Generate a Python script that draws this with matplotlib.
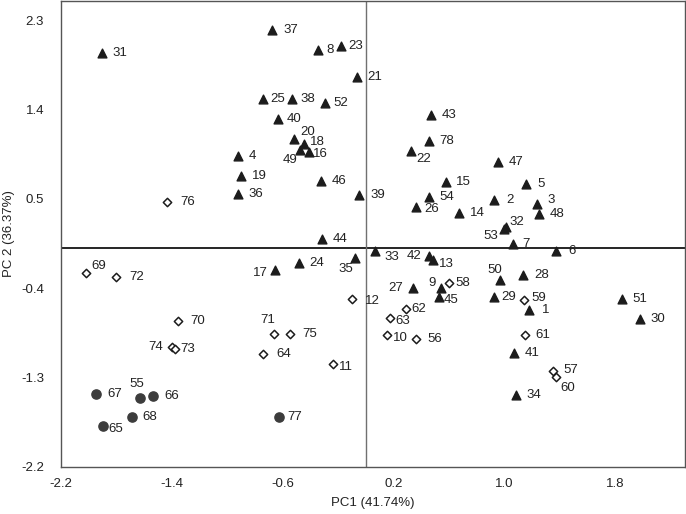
import matplotlib.pyplot as plt
import numpy as np

plt.rcParams['font.family'] = ['Liberation Sans', 'DejaVu Sans']

# PCA scores, three groups of accessions
tri_labels = ['31', '4', '19', '36', '37', '8', '23', '21', '25', '38', '52', '40',
              '20', '18', '49', '16', '46', '39', '44', '43', '78', '22', '15', '54',
              '26', '14', '47', '5', '2', '3', '48', '32', '53', '7', '6', '33', '42',
              '13', '35', '24', '17', '27', '9', '45', '50', '28', '29', '1', '51',
              '30', '41', '34']
tri_pc1 = [-1.904, -0.923, -0.899, -0.921, -0.673, -0.345, -0.177, -0.062, -0.738,
           -0.530, -0.295, -0.630, -0.515, -0.448, -0.475, -0.410, -0.321, -0.045,
           -0.317, 0.468, 0.453, 0.327, 0.578, 0.456, 0.363, 0.674, 0.957, 1.158,
           0.926, 1.235, 1.252, 1.014, 0.998, 1.060, 1.372, 0.068, 0.453, 0.485,
           -0.079, -0.482, -0.655, 0.338, 0.545, 0.525, 0.969, 1.137, 0.926, 1.180,
           1.849, 1.976, 1.072, 1.082]
tri_pc2 = [1.970, 0.934, 0.733, 0.551, 2.205, 2.004, 2.037, 1.725, 1.504, 1.504,
           1.471, 1.303, 1.099, 1.051, 0.991, 0.974, 0.682, 0.535, 0.099, 1.343,
           1.081, 0.981, 0.666, 0.515, 0.418, 0.354, 0.877, 0.652, 0.488, 0.451,
           0.350, 0.219, 0.196, 0.042, -0.022, -0.028, -0.075, -0.119, -0.092,
           -0.143, -0.216, -0.394, -0.394, -0.491, -0.314, -0.264, -0.485, -0.622,
           -0.511, -0.712, -1.058, -1.481]

dia_labels = ['76', '69', '72', '70', '74', '73', '12', '62', '63', '10', '56', '71',
              '75', '64', '11', '58', '59', '61', '57', '60']
dia_pc1 = [-1.432, -2.014, -1.798, -1.357, -1.396, -1.376, -0.098, 0.291, 0.175,
           0.156, 0.363, -0.659, -0.547, -0.738, -0.237, 0.597, 1.144, 1.149, 1.353,
           1.370]
dia_pc2 = [0.468, -0.246, -0.290, -0.736, -0.998, -1.011, -0.508, -0.609, -0.696,
           -0.877, -0.910, -0.867, -0.867, -1.065, -1.169, -0.350, -0.518, -0.877,
           -1.232, -1.296]

cir_labels = ['67', '55', '66', '68', '65', '77']
cir_pc1 = [-1.945, -1.626, -1.532, -1.686, -1.892, -0.623]
cir_pc2 = [-1.464, -1.504, -1.484, -1.698, -1.786, -1.698]

xticks = [-2.2, -1.4, -0.6, 0.2, 1.0, 1.8]
yticks = [-2.2, -1.3, -0.4, 0.5, 1.4, 2.3]

# label placement (pixel offsets of the label centre from the marker)
offsets = {
    '49': (-10, -10), '22': (13, -8), '53': (-13, -7), '32': (11, 5),
    '42': (-14, 0), '13': (13, -4), '35': (-9, -11), '17': (-15, -3),
    '27': (-17, 0), '9': (-9, 5), '58': (14, 0), '45': (13, -3),
    '12': (20, -2), '62': (13, 0), '63': (13, -3), '10': (13, -3),
    '56': (19, 0), '71': (-7, 14), '75': (20, 0), '64': (20, 0),
    '11': (13, -3), '77': (15, 0), '69': (12, 7), '72': (20, 0),
    '70': (20, 0), '74': (-16, 0), '73': (13, 0), '67': (19, 0),
    '55': (-4, 14), '66': (18, 0), '68': (18, 0), '65': (12, -3),
    '76': (20, 0), '8': (12, 0), '23': (14, 0), '25': (14, 0),
    '38': (16, 0), '52': (16, 0), '40': (16, 0), '20': (13, 7),
    '18': (14, 2), '16': (11, -2), '4': (15, 0), '26': (16, -2),
    '5': (15, 0), '2': (16, 0), '3': (14, 4), '7': (13, 0), '6': (16, 0),
    '33': (17, -6), '50': (-5, 10), '29': (15, 0), '59': (14, 2),
    '1': (16, 0), '57': (17, 1), '60': (12, -11),
}

fig = plt.figure(figsize=(6.86, 5.14), dpi=100)
ax = fig.add_axes([0.0885, 0.092, 0.9095, 0.907])

ax.axhline(0, color='black', lw=1.2, zorder=1)
ax.axvline(0, color='#707070', lw=1.0, zorder=1)

ax.scatter(tri_pc1, tri_pc2, marker='^', s=40, color='#1c1c1c', zorder=3)
ax.scatter(dia_pc1, dia_pc2, marker='D', s=18, facecolor='white',
           edgecolor='#1c1c1c', linewidths=1.1, zorder=3)
ax.scatter(cir_pc1, cir_pc2, marker='o', s=44, color='#3c3c3c', zorder=3)

for labs, xs, ys in [(tri_labels, tri_pc1, tri_pc2),
                     (dia_labels, dia_pc1, dia_pc2),
                     (cir_labels, cir_pc1, cir_pc2)]:
    for lab, x, y in zip(labs, xs, ys):
        dx, dy = offsets.get(lab, (18, 0))
        ax.annotate(lab, (x, y), xytext=(dx, dy), textcoords='offset pixels',
                    ha='center', va='center', fontsize=9.5, color='#222222')

ax.set_xlim(-2.2, 2.3)
ax.set_ylim(-2.2, 2.5)
ax.set_xticks(xticks)
ax.set_xticklabels([f'{t:.1f}' for t in xticks])
ax.set_yticks(yticks)
ax.set_yticklabels([f'{t:.1f}' for t in yticks])
ax.tick_params(length=0, labelsize=9.5, colors='#222222')
ax.tick_params(axis='x', pad=8)
ax.tick_params(axis='y', pad=12)
for sp in ax.spines.values():
    sp.set_color('#555555')
    sp.set_linewidth(1.0)

ax.set_xlabel('PC1 (41.74%)', fontsize=9.5, color='#222222', labelpad=5)
ax.set_ylabel('PC 2 (36.37%)', fontsize=9.5, color='#222222', labelpad=4)

fig.savefig('out.png', dpi=100)
